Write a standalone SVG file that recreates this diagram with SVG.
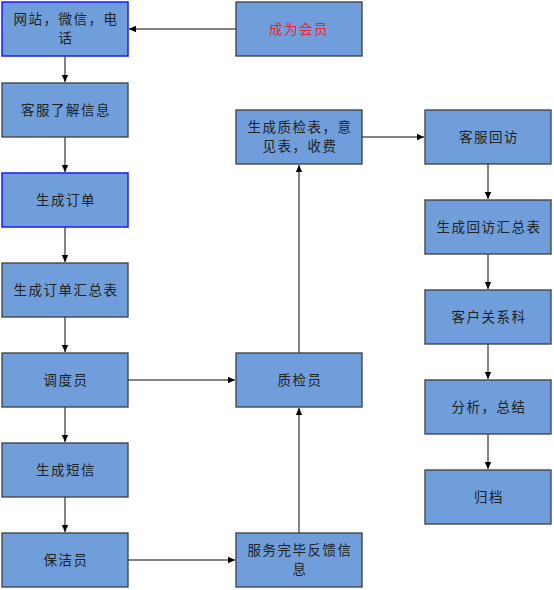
<svg xmlns="http://www.w3.org/2000/svg" width="554" height="590" viewBox="0 0 554 590">
<style>
.box{fill:#6f9edb;stroke:#3c3c3c;stroke-width:1.3}
.blue{stroke:#1a1aff;stroke-width:1.5}
.t{font-family:"Noto Sans CJK SC","Noto Sans CJK JP",sans-serif;font-size:13.5px;fill:#222;text-anchor:middle;letter-spacing:1.5px}
.red{fill:#f02030}
.c{fill:none;stroke:#5a5a5a;stroke-width:1.5;marker-end:url(#a)}
</style>
<defs>
<marker id="a" markerWidth="8" markerHeight="8" refX="7" refY="4" orient="auto" markerUnits="userSpaceOnUse">
<path d="M0,0.8 L7,4 L0,7.2 Z" fill="#000"/>
</marker>
</defs>
<rect width="554" height="590" fill="#fff"/>
<g id="connectors">
<path class="c" d="M236,29 H129"/>
<path class="c" d="M65,56 V82"/>
<path class="c" d="M65,137 V172"/>
<path class="c" d="M65,227 V262"/>
<path class="c" d="M65,317 V352"/>
<path class="c" d="M65,407 V442"/>
<path class="c" d="M65,497 V532"/>
<path class="c" d="M128,380 H235"/>
<path class="c" d="M128,560 H235"/>
<path class="c" d="M299,533 V408"/>
<path class="c" d="M299,353 V165"/>
<path class="c" d="M362,137 H424"/>
<path class="c" d="M488,164 V199"/>
<path class="c" d="M488,254 V289"/>
<path class="c" d="M488,344 V379"/>
<path class="c" d="M488,434 V469"/>
</g>
<g id="n1"><rect class="box blue" x="2" y="2" width="126" height="54"/><text class="t" x="66" y="24">网站，微信，电</text><text class="t" x="66" y="43">话</text></g>
<g id="n2"><rect class="box" x="236" y="2" width="126" height="54"/><text class="t red" x="299" y="34">成为会员</text></g>
<g id="n3"><rect class="box" x="2" y="83" width="126" height="54"/><text class="t" x="66" y="115">客服了解信息</text></g>
<g id="n4"><rect class="box blue" x="2" y="173" width="126" height="54"/><text class="t" x="66" y="205">生成订单</text></g>
<g id="n5"><rect class="box" x="2" y="263" width="126" height="54"/><text class="t" x="66" y="295">生成订单汇总表</text></g>
<g id="n6"><rect class="box" x="2" y="353" width="126" height="54"/><text class="t" x="66" y="385">调度员</text></g>
<g id="n7"><rect class="box" x="2" y="443" width="126" height="54"/><text class="t" x="66" y="475">生成短信</text></g>
<g id="n8"><rect class="box" x="2" y="533" width="126" height="54"/><text class="t" x="66" y="565">保洁员</text></g>
<g id="n9"><rect class="box" x="236" y="110" width="126" height="54"/><text class="t" x="300" y="132">生成质检表，意</text><text class="t" x="300" y="151">见表，收费</text></g>
<g id="n10"><rect class="box" x="236" y="353" width="126" height="54"/><text class="t" x="300" y="385">质检员</text></g>
<g id="n11"><rect class="box" x="236" y="533" width="126" height="54"/><text class="t" x="300" y="555">服务完毕反馈信</text><text class="t" x="300" y="574">息</text></g>
<g id="n12"><rect class="box" x="425" y="110" width="126" height="54"/><text class="t" x="489" y="142">客服回访</text></g>
<g id="n13"><rect class="box" x="425" y="200" width="126" height="54"/><text class="t" x="489" y="232">生成回访汇总表</text></g>
<g id="n14"><rect class="box" x="425" y="290" width="126" height="54"/><text class="t" x="489" y="322">客户关系科</text></g>
<g id="n15"><rect class="box" x="425" y="380" width="126" height="54"/><text class="t" x="489" y="412">分析，总结</text></g>
<g id="n16"><rect class="box" x="425" y="470" width="126" height="54"/><text class="t" x="489" y="502">归档</text></g>
</svg>
